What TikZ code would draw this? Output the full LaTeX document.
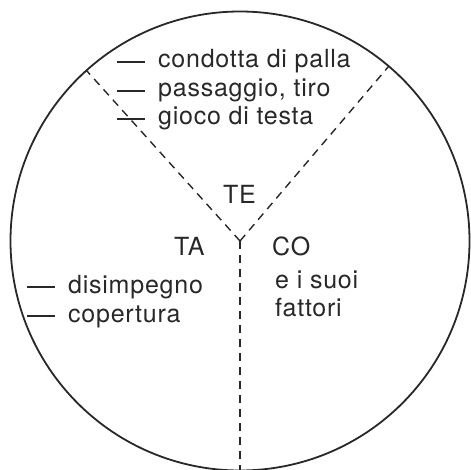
\documentclass[tikz,border=0pt]{standalone}
\usepackage{fontspec}
\usetikzlibrary{calc}
\setmainfont{TeX Gyre Heros}[LetterSpace=3]
\definecolor{ink}{RGB}{40,40,40}
\begin{document}
\begin{tikzpicture}[x=1pt,y=-1pt,
  lbl/.style={anchor=base west,inner sep=0pt,text=ink,font=\fontsize{25}{28}\selectfont},
  rim/.style={draw=ink,line width=1.8pt},
  sep/.style={draw=ink,line width=1.4pt,dash pattern=on 8pt off 6pt},
  bullet/.style={draw=ink,line width=1.3pt}]
\useasboundingbox (0,0) rectangle (470,470);
\coordinate (o) at (240,241);
\draw[rim] (o) circle [radius=229.5pt];
\coordinate (ul) at ($(o)+(-132:229.5)$);
\coordinate (ur) at ($(o)+(-49.6:229.5)$);
\coordinate (dn) at ($(o)+(90:229.5)$);
\draw[sep] (o) -- (ul);
\draw[sep] (o) -- (ur);
\draw[sep] (o) -- (dn);
% texts
\node[lbl] (t1) at (158,68) {condotta di palla};
\node[lbl] (t2) at (158,97) {passaggio, tiro};
\node[lbl] (t3) at (158,125) {gioco di testa};
\node[lbl] (te) at (223,203) {TE};
\node[lbl] (ta) at (174,255) {TA};
\node[lbl] (co) at (272,255) {CO};
\node[lbl] (c1) at (275,288) {e i suoi};
\node[lbl] (c2) at (275,316) {fattori};
\node[lbl] (a1) at (68,293) {disimpegno};
\node[lbl] (a2) at (68,322) {copertura};
% list dashes
\foreach \n in {t1,t2,t3,a1,a2}
  \draw[bullet] ([xshift=-41pt,yshift=6pt]\n.base west) -- ++(28,0);
\end{tikzpicture}
\end{document}
